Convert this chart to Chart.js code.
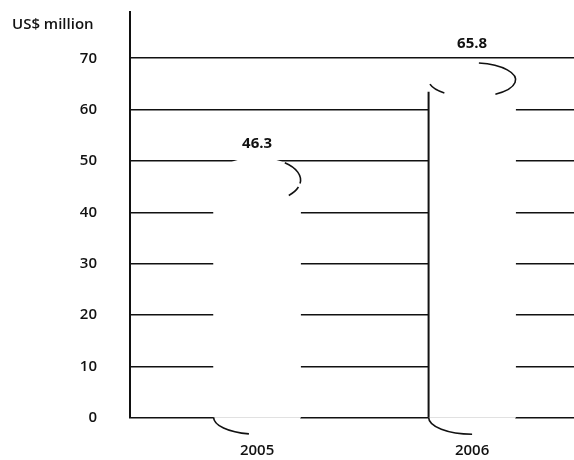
<!DOCTYPE html>
<html>
<head>
<meta charset="utf-8">
<script src="https://cdn.jsdelivr.net/npm/chart.js@4"></script>
<style>
  html, body { margin: 0; padding: 0; background: #fff; }
  #wrap { width: 574px; height: 460px; }
</style>
</head>
<body>
<div id="wrap"><canvas id="chart" width="574" height="460"></canvas></div>
<script>
// Years on the horizontal axis and their values (US$ million)
const years = ['2005', '2006'];
const revenue = [46.3, 65.8];
// Gridline / tick values on the vertical axis
const yTicks = [0, 10, 20, 30, 40, 50, 60, 70];
const unitLabel = 'US$ million';

const FONT = '"Open Sans", "Liberation Sans", sans-serif';
const INK = '#111';

// Draws the rounded cylinder ends, the visible outline fragments and the value labels
const cylinderPlugin = {
  id: 'cylinders',
  afterDatasetsDraw(chart, args, opts) {
    const ctx = chart.ctx;
    const meta = chart.getDatasetMeta(0);
    meta.data.forEach((bar, i) => {
      const p = bar.getProps(['x', 'y', 'base', 'width'], true);
      const style = opts.outline[i] || {};
      const rx = p.width / 2;
      const topRy = style.topRy || opts.ry;
      const botRy = opts.ry;
      ctx.save();
      // white caps hide the gridlines behind the cylinder
      ctx.fillStyle = '#fff';
      ctx.beginPath();
      ctx.ellipse(p.x, p.y, rx, topRy, 0, 0, Math.PI * 2);
      ctx.fill();
      ctx.beginPath();
      ctx.ellipse(p.x, p.base, rx, botRy, 0, 0, Math.PI);
      ctx.fill();
      // outline fragments
      ctx.strokeStyle = INK;
      ctx.lineWidth = 1.6;
      (style.top || []).forEach(([a, b]) => {
        ctx.beginPath();
        ctx.ellipse(p.x, p.y, rx, topRy, 0, a * Math.PI, b * Math.PI);
        ctx.stroke();
      });
      (style.bottom || []).forEach(([a, b]) => {
        ctx.beginPath();
        ctx.ellipse(p.x, p.base, rx, botRy, 0, a * Math.PI, b * Math.PI);
        ctx.stroke();
      });
      if (style.edge) {
        ctx.lineWidth = 2;
        ctx.beginPath();
        ctx.moveTo(p.x - rx, p.y + 12);
        ctx.lineTo(p.x - rx, p.base);
        ctx.stroke();
      }
      // value label above the cap
      ctx.fillStyle = INK;
      ctx.font = 'bold 15px ' + FONT;
      ctx.textAlign = 'center';
      ctx.textBaseline = 'middle';
      ctx.fillText(String(revenue[i]), p.x, p.y - 36);
      ctx.restore();
    });
  },
  afterDraw(chart) {
    const ctx = chart.ctx;
    ctx.save();
    ctx.fillStyle = INK;
    ctx.font = '600 15px ' + FONT;
    ctx.textAlign = 'left';
    ctx.textBaseline = 'middle';
    ctx.fillText(unitLabel, 12, 25);
    ctx.restore();
  }
};

new Chart(document.getElementById('chart'), {
  type: 'bar',
  data: {
    labels: years,
    datasets: [{
      data: revenue,
      backgroundColor: '#ffffff',
      borderWidth: 0,
      barThickness: 87
    }]
  },
  options: {
    responsive: false,
    animation: false,
    devicePixelRatio: 1,
    layout: { padding: { top: 12, right: 0, bottom: 0, left: 0 } },
    plugins: {
      legend: { display: false },
      tooltip: { enabled: false },
      cylinders: {
        ry: 17,
        outline: [
          { topRy: 22.5, top: [[-0.28, 0.05], [0.1, 0.24]], bottom: [[0.56, 1.0]], edge: false },
          { topRy: 17, top: [[-0.45, 0.32], [0.72, 0.92]], bottom: [[0.5, 1.0]], edge: true }
        ]
      }
    },
    scales: {
      x: {
        type: 'linear',
        offset: false,
        bounds: 'data',
        min: 2004.409,
        max: 2006.474,
        grid: { display: false, drawTicks: false, offset: false },
        border: { display: false },
        afterBuildTicks: (axis) => { axis.ticks = years.map(y => ({ value: +y })); },
        afterFit: (scale) => {
          scale.height = 42;
          scale.paddingLeft = 0;
          scale.paddingRight = 0;
        },
        ticks: {
          padding: 24,
          color: INK,
          font: { family: FONT, size: 15, weight: '600' },
          callback: (v) => String(v)
        }
      },
      y: {
        min: 0,
        max: 79,
        afterBuildTicks: (axis) => { axis.ticks = yTicks.map(v => ({ value: v })); },
        afterFit: (scale) => {
          scale.width = 130;
          scale.paddingTop = 0;
          scale.paddingBottom = 0;
        },
        grid: { color: INK, lineWidth: 1.6, drawTicks: false },
        border: { color: INK, width: 2 },
        ticks: {
          padding: 33,
          color: INK,
          font: { family: FONT, size: 15, weight: '600' }
        }
      }
    }
  },
  plugins: [cylinderPlugin]
});
</script>
</body>
</html>
